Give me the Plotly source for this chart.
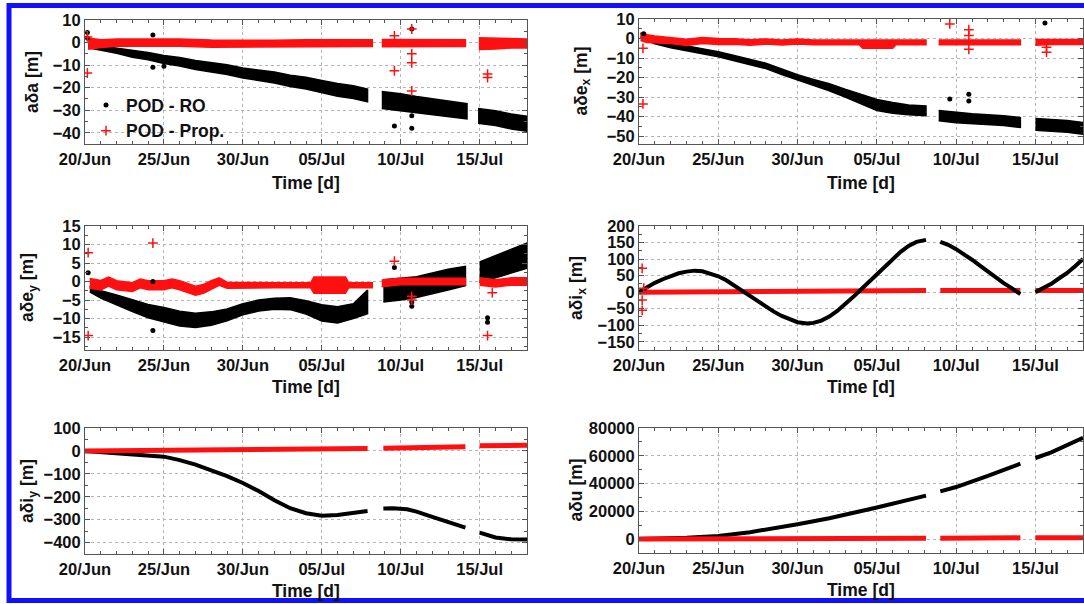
import datetime as dt
import plotly.graph_objects as go

W, H = 1084, 604
T0 = dt.datetime(2013, 6, 20)
T_END = dt.datetime(2013, 7, 18)

BLACK = "#000000"
RED = "#ff1010"
FONT = "Liberation Sans, Arial, sans-serif"

# ---------------- a*delta a ----------------
a_ro_day = [0.2, 1, 2, 3, 4, 5, 6, 7, 8, 9, 10, 11, 12, 13, 14, 15, 16, 17, 17.9, None,
            18.8, 20, 21, 22, 23, 24.2, None, 24.9, 26, 27, 28]
a_ro_mid = [-1.5, -2.5, -3.5, -5, -6, -7.5, -8.5, -10, -11, -12, -13.5, -14.5, -15.5, -17, -18, -19.5, -21, -22, -23.5, None,
            -25.5, -26.5, -27.5, -28.5, -29.5, -30.5, None, -32.5, -33.5, -35, -36]
a_ro_half = [0.8, 1.0, 1.3, 1.5, 1.6, 1.8, 1.9, 2.0, 2.1, 2.2, 2.2, 2.3, 2.4, 2.5, 2.6, 2.7, 2.8, 2.8, 2.8, None,
             3.8, 3.8, 3.6, 3.5, 3.4, 3.4, None, 3.3, 3.3, 3.3, 3.3]
a_pr_day = [0.2, 1, 2, 4, 6, 8, 10, 12, 14, 16, 18.2, None, 18.8, 20, 22, 24.1, None, 24.95, 26, 27, 28]
a_pr_mid = [-0.5, -0.5, 0, 0, 0, -0.5, -0.5, -0.5, -0.3, -0.3, -0.3, None, -0.3, -0.3, -0.3, -0.3, None, -0.5, -0.5, -0.4, -0.4]
a_pr_half = [2.5, 1.7, 1.6, 1.6, 1.6, 1.6, 1.5, 1.5, 1.5, 1.5, 1.5, None, 1.6, 1.6, 1.5, 1.5, None, 2.6, 2.4, 2.0, 2.0]
a_ro_out_day = [0.15, 0.15, 4.3, 4.3, 5.0, 19.6, 20.7, 20.7, 20.7]
a_ro_out_val = [4.5, 2.0, 3.3, -11, -10.5, -37, 6, -32.5, -38]
a_pr_out_day = [0.15, 0.15, 19.6, 19.6, 20.7, 20.7, 20.7, 20.7, 25.5, 25.5]
a_pr_out_val = [-13.5, 2.5, -12.5, 3, 6, -5, -9, -21.5, -15.5, -14]

# ---------------- a*delta e_x ----------------
ex_ro_day = [0.1, 1, 2, 3, 4, 5, 6, 7, 8, 9, 10, 11, 12, 13, 14, 15, 16, 17, 18.1, None,
             18.9, 20, 21, 22, 23, 24.05, None, 25, 26, 27, 28]
ex_ro_mid = [1.5, -1.5, -3.5, -5, -6.5, -8, -10, -12, -14, -17, -20, -22.5, -25, -28, -31, -34, -35.5, -36.5, -37, None,
             -39.5, -40.5, -41, -41.5, -42, -43, None, -44, -44.5, -45, -46]
ex_ro_half = [1.2, 1.2, 1.2, 1.2, 1.3, 1.3, 1.3, 1.3, 1.4, 1.4, 1.5, 1.6, 1.8, 2.0, 2.3, 2.8, 2.8, 2.5, 2.5, None,
              2.6, 2.6, 2.5, 2.5, 2.5, 2.5, None, 3.0, 3.0, 3.0, 3.0]
ex_pr_day = [0.1, 0.5, 1, 2, 3, 4, 5, 6, 7, 8, 9, 10, 11, 12, 13, 13.9, 14.1, 16.0, 16.2, 18.1, None,
             18.9, 20, 22, 24.05, None, 25, 26, 27, 28]
ex_pr_mid = [1, 0, -0.5, -1, -2, -1, -1.5, -1.5, -2, -1.5, -2, -1.5, -2, -2, -2, -2, -2.8, -2.8, -2, -2, None,
             -2, -2, -2, -2, None, -2, -1.8, -1.8, -1.8]
ex_pr_half = [2, 2, 1.8, 1.6, 1.6, 1.5, 1.5, 1.4, 1.4, 1.3, 1.3, 1.3, 1.2, 1.2, 1.2, 1.2, 2.2, 2.2, 1.2, 1.2, None,
              1.2, 1.2, 1.2, 1.2, None, 1.5, 1.3, 1.3, 1.3]
ex_ro_out_day = [0.3, 19.6, 20.8, 20.8, 25.6]
ex_ro_out_val = [2.5, -31, -28.5, -32, 8]
ex_pr_out_day = [0.25, 0.25, 19.6, 20.8, 20.8, 20.8, 25.7, 25.7]
ex_pr_out_val = [-5, -33.5, 7.5, 4.5, 1.5, -5.5, -7, -4.5]

# ---------------- a*delta e_y ----------------
ey_ro_day = [0.3, 1, 2, 3, 4, 5, 6, 7, 8, 9, 10, 11, 12, 13, 14, 15, 16, 17, 17.9, None,
             18.9, 20, 21, 22, 23, 24.1, None, 25, 26, 27, 28]
ey_ro_mid = [-2, -3.5, -5, -6.5, -8, -9, -10, -10.5, -10, -9, -7.5, -6.5, -6, -6, -7, -8.5, -9, -8, -5.5, None,
             -2.5, -2, -1.5, -0.5, 0.5, 1.5, None, 2.5, 4, 5.5, 7]
ey_ro_half = [0.8, 1.0, 1.4, 1.6, 1.8, 2.0, 2.0, 1.9, 1.8, 1.6, 1.5, 1.5, 1.5, 1.6, 1.8, 2.2, 2.2, 2.0, 3.2, None,
              3.0, 3.0, 2.8, 2.8, 2.8, 2.6, None, 2.8, 3.0, 3.2, 3.4]
ey_pr_day = [0.3, 1, 1.5, 2, 3, 3.5, 4, 5, 5.5, 6, 7, 7.5, 8, 8.5, 9, 10, 12, 14.3, 14.5, 16.5, 16.7, 18.2, None,
             18.8, 20, 22, 24.1, None, 25, 26, 27, 28]
ey_pr_mid = [-0.5, -1, 0, -1, -1.5, -0.5, -1, -1, -0.5, -1, -2.5, -2, -1, 0, -1, -1, -1, -1, -1, -1, -1, -1, None,
             -0.5, 0, 0, 0, None, 0, -0.5, 0, 0]
ey_pr_half = [1.3, 1.3, 1.2, 1.2, 1.2, 1.2, 1.2, 1.2, 1.2, 1.2, 1.2, 1.2, 1.2, 1.0, 0.8, 0.7, 0.7, 0.7, 2.2, 2.2, 0.7, 0.7, None,
              0.9, 0.9, 0.9, 0.9, None, 1.0, 1.0, 1.0, 1.0]
ey_ro_out_day = [0.2, 4.3, 4.3, 19.6, 20.7, 20.7, 25.5, 25.5]
ey_ro_out_val = [2.4, -13.2, 0, 3.8, -6.7, -5.5, -9.8, -11]
ey_pr_out_day = [0.2, 0.2, 4.3, 19.6, 20.7, 20.7, 25.5, 25.8]
ey_pr_out_val = [7.8, -14.6, 10.4, 5.5, -4, -5, -14.6, -3]

# ---------------- a*delta i_x ----------------
ix_ro_day = [0, 0.5, 1, 1.5, 2, 2.5, 3, 3.5, 4, 4.5, 5, 5.5, 6, 6.5, 7, 7.5, 8, 8.5, 9, 9.5, 10, 10.6,
             11, 11.5, 12, 12.5, 13, 13.5, 14, 14.5, 15, 15.5, 16, 16.5, 17, 17.5, 18.1, None,
             19, 19.5, 20, 20.5, 21, 21.5, 22, 22.5, 23, 23.5, 24.05, None,
             25, 25.5, 26, 26.5, 27, 27.5, 28]
ix_ro_val = [0, 15, 28, 39, 49, 57, 62, 65, 63, 57, 48, 36, 20, 5, -10, -27, -44, -59, -72, -83, -91, -95,
             -93, -86, -74, -57, -37, -15, 8, 31, 55, 78, 100, 122, 140, 152, 158, None,
             152, 143, 130, 115, 98, 80, 62, 44, 27, 12, -6, None,
             0, 12, 25, 42, 58, 78, 100]
ix_pr_day = [0, 5, 10, 15, 18.1, None, 19, 24.05, None, 25, 28]
ix_pr_val = [0, 2, 3, 5, 5, None, 5, 5, None, 5, 5]
ix_pr_out_day = [0.2, 0.2, 0.2, 0.3]
ix_pr_out_val = [72, -24, -55, 12]

# ---------------- a*delta i_y ----------------
iy_ro_day = [0, 1, 2, 3, 4, 5, 6, 7, 8, 9, 10, 11, 12, 13, 14, 15, 16, 17, 17.9, None,
             18.9, 19.5, 20.4, 21, 22, 23, 24.1, None, 25, 26, 27, 28]
iy_ro_val = [0, -5, -10, -13, -17, -25, -40, -60, -85, -110, -140, -175, -215, -250, -272, -283, -280, -272, -262, None,
             -251, -250, -255, -265, -288, -312, -335, None, -357, -378, -386, -387]
iy_pr_day = [0, 5, 10, 15, 17.9, None, 18.9, 24.1, None, 25, 28]
iy_pr_val = [0, 3, 7, 9, 10, None, 12, 18, None, 22, 25]

# ---------------- a*delta u ----------------
u_ro_day = [0, 2, 3, 5, 7, 10, 12, 15, 18.1, None, 19, 20, 22, 24.05, None, 25, 26, 28]
u_ro_val = [0, 500, 1000, 2200, 5000, 10700, 15000, 22800, 31300, None,
            34400, 37500, 45500, 54300, None, 58400, 62500, 72900]
u_pr_day = [0, 18.1, None, 19, 24.05, None, 25, 28]
u_pr_val = [0, 600, None, 700, 900, None, 900, 1000]

# ---------------- panel frames (pixels) ----------------
panels = [
    dict(px=(85, 527), py=(20, 144), yr=[-45, 10], dt=10, title="aδa [m]", tx=32),
    dict(px=(639, 1083), py=(19, 144), yr=[-54, 10], dt=10, title="aδe<sub>x</sub> [m]", tx=582),
    dict(px=(85, 527), py=(226, 350), yr=[-18.5, 15], dt=5, title="aδe<sub>y</sub> [m]", tx=28),
    dict(px=(639, 1083), py=(226, 350), yr=[-175, 200], dt=50, title="aδi<sub>x</sub> [m]", tx=577),
    dict(px=(85, 527), py=(428, 554), yr=[-450, 100], dt=100, title="aδi<sub>y</sub> [m]", tx=28),
    dict(px=(639, 1083), py=(428, 553), yr=[-10000, 80000], dt=20000, title="aδu [m]", tx=575),
]
time_title_y = [183, 183, 387, 387, 591, 590]


def to_dates(days):
    return [None if d is None else T0 + dt.timedelta(days=d) for d in days]


def segments(days, *cols):
    seg = []
    for i, d in enumerate(days):
        if d is None:
            if seg:
                yield seg
            seg = []
        else:
            seg.append((d,) + tuple(c[i] for c in cols))
    if seg:
        yield seg


fig = go.Figure()


def add_band(k, days, mid, half, color):
    for seg in segments(days, mid, half):
        xs = to_dates([s[0] for s in seg])
        up = [s[1] + s[2] for s in seg]
        lo = [s[1] - s[2] for s in seg]
        fig.add_trace(go.Scatter(
            x=xs + xs[::-1], y=up + lo[::-1], mode="lines", fill="toself",
            fillcolor=color, line=dict(color=color, width=1.5),
            xaxis=f"x{k}", yaxis=f"y{k}", showlegend=False, hoverinfo="skip"))


def add_curve(k, days, vals, color, width):
    fig.add_trace(go.Scatter(
        x=to_dates(days), y=vals, mode="lines", line=dict(color=color, width=width),
        xaxis=f"x{k}", yaxis=f"y{k}", showlegend=False, hoverinfo="skip"))


def add_points(k, days, vals, kind, legend=False):
    if kind == "ro":
        marker = dict(symbol="circle", size=5, color=BLACK)
        name = "POD - RO"
    else:
        marker = dict(symbol="cross-thin", size=7, color=RED, line=dict(color=RED, width=1.5))
        name = "POD - Prop."
    fig.add_trace(go.Scatter(
        x=to_dates(days), y=vals, mode="markers", marker=marker, name=name,
        xaxis=f"x{k}", yaxis=f"y{k}", showlegend=legend))


# aδa
add_band(1, a_ro_day, a_ro_mid, a_ro_half, BLACK)
add_band(1, a_pr_day, a_pr_mid, a_pr_half, RED)
add_points(1, a_ro_out_day, a_ro_out_val, "ro", legend=True)
add_points(1, a_pr_out_day, a_pr_out_val, "pr", legend=True)
# aδe_x
add_band(2, ex_ro_day, ex_ro_mid, ex_ro_half, BLACK)
add_band(2, ex_pr_day, ex_pr_mid, ex_pr_half, RED)
add_points(2, ex_ro_out_day, ex_ro_out_val, "ro")
add_points(2, ex_pr_out_day, ex_pr_out_val, "pr")
# aδe_y
add_band(3, ey_ro_day, ey_ro_mid, ey_ro_half, BLACK)
add_band(3, ey_pr_day, ey_pr_mid, ey_pr_half, RED)
add_points(3, ey_ro_out_day, ey_ro_out_val, "ro")
add_points(3, ey_pr_out_day, ey_pr_out_val, "pr")
# aδi_x
add_curve(4, ix_pr_day, ix_pr_val, RED, 5)
add_curve(4, ix_ro_day, ix_ro_val, BLACK, 4)
add_points(4, ix_pr_out_day, ix_pr_out_val, "pr")
# aδi_y
add_curve(5, iy_ro_day, iy_ro_val, BLACK, 4)
add_curve(5, iy_pr_day, iy_pr_val, RED, 5)
# aδu
add_curve(6, u_ro_day, u_ro_val, BLACK, 4)
add_curve(6, u_pr_day, u_pr_val, RED, 5)

tick_font = dict(family=FONT, size=16.5, color="#111111", weight="bold")
title_font = dict(family=FONT, size=17.5, color="#111111", weight="bold")
axis_common = dict(
    showline=True, linecolor="#555555", linewidth=1, mirror="allticks",
    ticks="inside", ticklen=5, tickcolor="#555555", automargin=False,
    showgrid=True, gridcolor="#b4b4b4", griddash="dot", gridwidth=1,
    zeroline=False, tickfont=tick_font,
)

annotations = []
for i, p in enumerate(panels, start=1):
    xl, xr = p["px"]
    yt, yb = p["py"]
    fig.layout[f"xaxis{i}"] = dict(
        axis_common, domain=[xl / W, xr / W], anchor=f"y{i}", type="date",
        range=[T0, T_END], tick0=T0, dtick=5 * 86400000, tickformat="%d/%b",
        minor=dict(dtick=86400000, ticks="inside", ticklen=3, tickcolor="#555555", showgrid=False),
    )
    fig.layout[f"yaxis{i}"] = dict(
        axis_common, domain=[1 - yb / H, 1 - yt / H], anchor=f"x{i}",
        range=p["yr"], dtick=p["dt"], tick0=0, tickformat="d",
        minor=dict(dtick=p["dt"] / 2, ticks="inside", ticklen=3, tickcolor="#555555", showgrid=False),
    )
    annotations.append(dict(
        text="Time [d]", x=(xl + xr) / 2 / W, y=1 - time_title_y[i - 1] / H,
        xref="paper", yref="paper", xanchor="center", yanchor="middle",
        showarrow=False, font=title_font))
    annotations.append(dict(
        text=p["title"], x=p["tx"] / W, y=1 - (yt + yb) / 2 / H, textangle=-90,
        xref="paper", yref="paper", xanchor="center", yanchor="middle",
        showarrow=False, font=title_font))

fig.update_layout(
    template="none",
    width=W, height=H, margin=dict(l=0, r=0, t=0, b=0, pad=0, autoexpand=False),
    paper_bgcolor="white", plot_bgcolor="white",
    annotations=annotations,
    legend=dict(x=86 / W, y=1 - 87 / H, xanchor="left", yanchor="top",
                bgcolor="rgba(0,0,0,0)", font=title_font, tracegroupgap=0),
    shapes=[dict(type="rect", xref="paper", yref="paper",
                 x0=9 / W, x1=1.02, y0=1 - 600.5 / H, y1=1 - 5.5 / H,
                 line=dict(color="#1010ff", width=5), layer="above")],
)

fig.write_html("out.html", config={"displayModeBar": False})
